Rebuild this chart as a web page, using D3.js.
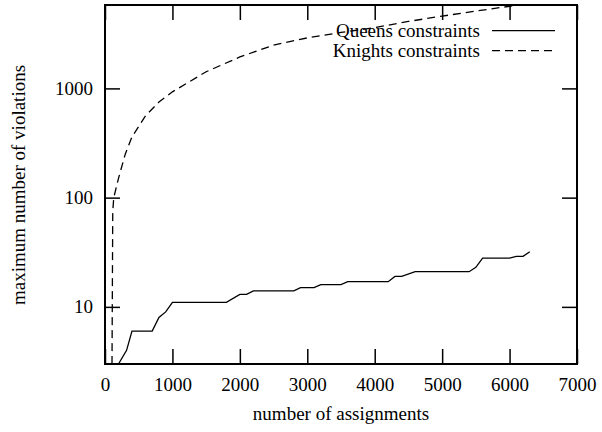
<!DOCTYPE html>
<meta charset="utf-8">
<style>
body { margin: 0; background: #fff; }
text { font-family: "Liberation Serif", "Times New Roman", serif; }
</style>
<svg width="602" height="432"></svg>
<script src="https://d3js.org/d3.v7.min.js"></script>
<script>

// data
var xTicks = [0, 1000, 2000, 3000, 4000, 5000, 6000, 7000];
var yTicks = [10, 100, 1000];
var seriesNames = ["Queens constraints", "Knights constraints"];

var queensX = [200, 320, 400, 700, 800, 900, 1000, 1800, 2000, 2100, 2200, 2800, 2900, 3100, 3200, 3500, 3600, 4200, 4300, 4400, 4600, 5400, 5500, 5600, 6000, 6100, 6200, 6300];
var queensY = [3, 4, 6, 6, 8, 9, 11, 11, 13, 13, 14, 14, 15, 15, 16, 16, 17, 17, 19, 19, 21, 21, 23, 28, 28, 29, 29, 32];

var knightsX = [100, 115, 130, 200, 300, 400, 600, 800, 1000, 1500, 2000, 2500, 3000, 3500, 4000, 4500, 5000, 5500, 6000, 6300];
var knightsY = [1, 75, 100, 150, 250, 360, 560, 750, 930, 1420, 1940, 2490, 2900, 3250, 3600, 4100, 4590, 5100, 5650, 5950];

var svg = d3.select("svg"),
    margin = {top: 5, right: 25, bottom: 68, left: 105},
    width = +svg.attr("width") - margin.left - margin.right,
    height = +svg.attr("height") - margin.top - margin.bottom;

var x = d3.scaleLinear().domain([0, 7000]).range([0, width]),
    y = d3.scaleLog().domain([3, 5800]).range([height, 0]);

var g = svg.append("g")
    .attr("transform", "translate(" + margin.left + "," + margin.top + ")");

g.append("clipPath").attr("id", "plot-clip")
  .append("rect")
    .attr("width", width)
    .attr("height", height);

// axes, ticks pointing inward
function styleAxis(sel) {
  sel.select(".domain").remove();
  sel.selectAll(".tick line").attr("stroke", "#000").attr("stroke-width", 1.5);
  sel.selectAll(".tick text")
      .attr("fill", "#000")
      .attr("font-size", "19px")
      .attr("font-family", "'Liberation Serif', 'Times New Roman', serif");
}

g.append("g")
    .attr("transform", "translate(0," + height + ")")
    .call(d3.axisBottom(x).tickValues(xTicks).tickFormat(d3.format("d")).tickSize(-15).tickPadding(14))
    .call(styleAxis);

g.append("g")
    .call(d3.axisTop(x).tickValues(xTicks).tickSize(-15).tickFormat(""))
    .call(styleAxis);

g.append("g")
    .call(d3.axisLeft(y).tickValues(yTicks).tickFormat(d3.format("d")).tickSize(-15).tickPadding(12))
    .call(styleAxis);

g.append("g")
    .attr("transform", "translate(" + width + ",0)")
    .call(d3.axisRight(y).tickValues(yTicks).tickSize(-15).tickFormat(""))
    .call(styleAxis);

// lines
var line = d3.line()
    .x(function(d) { return x(d[0]); })
    .y(function(d) { return y(d[1]); });

var plot = g.append("g").attr("clip-path", "url(#plot-clip)");

plot.append("path")
    .datum(d3.zip(queensX, queensY))
    .attr("fill", "none")
    .attr("stroke", "#000")
    .attr("stroke-width", 1.3)
    .attr("d", line);

plot.append("path")
    .datum(d3.zip(knightsX, knightsY))
    .attr("fill", "none")
    .attr("stroke", "#000")
    .attr("stroke-width", 1.3)
    .attr("stroke-dasharray", "8,5")
    .attr("d", line);

// frame
g.append("rect")
    .attr("width", width)
    .attr("height", height)
    .attr("fill", "none")
    .attr("stroke", "#000")
    .attr("stroke-width", 2);

// legend
var legend = g.append("g");
seriesNames.forEach(function(name, i) {
  var ly = 25.7 + i * 20;
  legend.append("text")
      .attr("x", 375)
      .attr("y", ly + 6)
      .attr("text-anchor", "end")
      .attr("font-size", "19px")
      .text(name);
  legend.append("line")
      .attr("x1", 387).attr("x2", 450)
      .attr("y1", ly).attr("y2", ly)
      .attr("stroke", "#000")
      .attr("stroke-width", 1.3)
      .attr("stroke-dasharray", i === 1 ? "8,5" : null);
});

// axis titles
svg.append("text")
    .attr("x", margin.left + width / 2)
    .attr("y", 420)
    .attr("text-anchor", "middle")
    .attr("font-size", "19px")
    .text("number of assignments");

svg.append("text")
    .attr("transform", "translate(25,185) rotate(-90)")
    .attr("text-anchor", "middle")
    .attr("font-size", "19px")
    .text("maximum number of violations");

</script>
